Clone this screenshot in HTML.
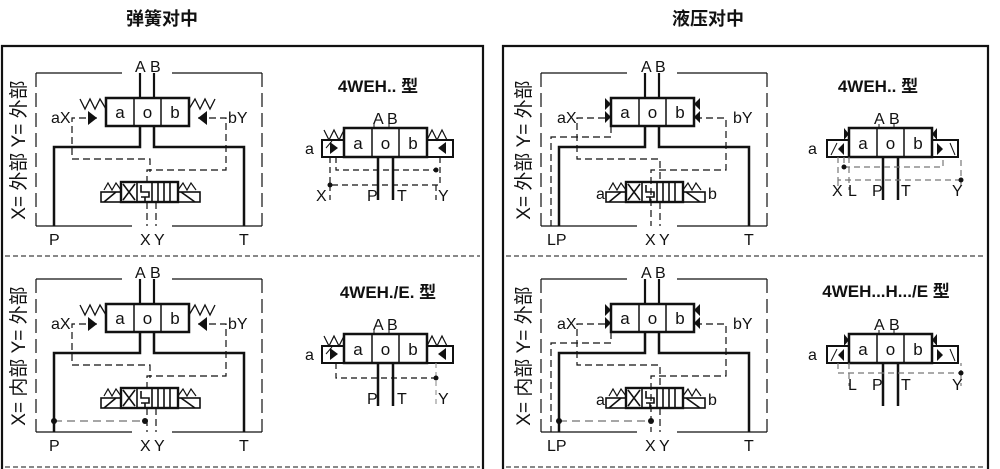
<!DOCTYPE html>
<html><head><meta charset="utf-8"><style>
html,body{margin:0;padding:0;background:#fff;}
svg{display:block;}
text{font-family:"Liberation Sans","Noto Sans CJK SC",sans-serif;fill:#111;}
.t{font-weight:bold;}
.v{font-size:17px;text-anchor:middle;}
</style></head><body>
<svg width="1000" height="469" viewBox="0 0 1000 469" xmlns="http://www.w3.org/2000/svg">
<defs>
 <g id="frame" fill="none" stroke="#111">
  <path d="M36,73H122M172,73H262M36,226H132M172,226H262" stroke-width="1.2"/>
  <path d="M36,73V226M262,73V226" stroke-width="1.2" stroke-dasharray="14,6"/>
  <path d="M140,73V98M154,73V98" stroke-width="2.2"/>
  <rect x="106" y="98" width="83" height="28" stroke-width="2.5" fill="#fff"/>
  <path d="M134,98V126M161,98V126" stroke-width="1.5"/>
  <path d="M140,126V147H54V226M154,126V147H244V226" stroke-width="2.5"/>
  <g stroke-width="1.6">
   <rect x="101" y="192" width="20" height="10"/>
   <rect x="178" y="192" width="22" height="10"/>
   <rect x="121" y="182" width="57" height="20" stroke-width="2.4"/>
   <path d="M137,182V202M152,182V202M158,182V202M164,182V202M170,182V202"/>
   <path d="M123,184L135,200M135,184L123,200"/>
   <path d="M141,185V192H149V197H141M145,197V202"/>
   <path d="M104,202L116,192M181,192L195,202"/>
   <path d="M104,190L108,183L112,190L116,183L121,190M178,190L183,183L187,190L191,183L196,190" stroke-width="1.2"/>
  </g>
 </g>
 <g id="small" fill="none" stroke="#111">
  <rect x="344" y="128" width="83" height="29" stroke-width="2.5" fill="#fff"/>
  <path d="M372,128V157M399,128V157" stroke-width="1.5"/>
  <rect x="322" y="140" width="22" height="17" stroke-width="2"/>
  <rect x="427" y="140" width="26" height="17" stroke-width="2"/>
  <path d="M378,157V200M393,157V200" stroke-width="2.5"/>
  <path d="M374,124V128M389,124V128" stroke-width="1"/>
 </g>
</defs>

<text x="162" y="25" font-size="18" class="t" text-anchor="middle">弹簧对中</text>
<text x="708" y="25" font-size="18" class="t" text-anchor="middle">液压对中</text>

<path d="M2,469V46H483V469" fill="none" stroke="#111" stroke-width="2.2"/>
<path d="M503,469V46H988V469" fill="none" stroke="#111" stroke-width="2.2"/>
<path d="M5,256H480M506,256H985M5,467H480M506,467H985" stroke="#111" stroke-width="1" stroke-dasharray="5,3"/>

<!-- ===== TL ===== -->
<g>
 <use href="#frame"/>
 <text x="120" y="118" class="v">a</text><text x="147.5" y="118" class="v">o</text><text x="175" y="118" class="v">b</text>
 <path d="M80,99L85,109L90,99L95,109L100,99L106,109M189,109L195,99L200,109L205,99L210,109L215,99" fill="none" stroke="#111" stroke-width="1.3"/>
 <path d="M88,111L97,118L88,125Z M207,111L198,118L207,125Z" fill="#111"/>
 <path d="M97,118H72V159H150V172M198,118H226V170H147V182M147,202V226M156,202V226" fill="none" stroke="#111" stroke-width="1.2" stroke-dasharray="7,4"/>
 <text x="135" y="72" font-size="16">A</text><text x="150" y="72" font-size="16">B</text>
 <text x="51" y="123" font-size="16">aX</text><text x="228" y="123" font-size="16">bY</text>
 <text x="49" y="245" font-size="16">P</text><text x="140" y="245" font-size="16">X</text><text x="154" y="245" font-size="16">Y</text><text x="239" y="245" font-size="16">T</text>
 <text transform="translate(25,150) rotate(-90)" font-size="19" text-anchor="middle">X= 外部  Y= 外部</text>
 <text x="378" y="92" font-size="17" class="t" text-anchor="middle">4WEH.. 型</text>
 <use href="#small"/>
 <text x="358" y="149" class="v">a</text><text x="385.5" y="149" class="v">o</text><text x="413" y="149" class="v">b</text>
 <path d="M324,130L329,140L334,130L339,140L344,130M427,140L432,130L437,140L442,130L447,140" fill="none" stroke="#111" stroke-width="1.2"/>
 <path d="M330,142V154L338,148Z M446,142V154L438,148Z" fill="#111"/>
 <path d="M336,157V170H436M330,157V185H440V157M330,185V200M436,185V200" fill="none" stroke="#111" stroke-width="1.2" stroke-dasharray="6,4"/>
 <circle cx="330" cy="185" r="2.5" fill="#111"/><circle cx="436" cy="170" r="2.5" fill="#111"/>
 <path d="M326,148L332,141" stroke="#111"/>
 <text x="373" y="124" font-size="16">A</text><text x="387" y="124" font-size="16">B</text>
 <text x="305" y="154" font-size="16">a</text>
 <text x="316" y="201" font-size="16">X</text><text x="367" y="201" font-size="16">P</text><text x="397" y="201" font-size="16">T</text><text x="438" y="201" font-size="16">Y</text>
</g>

<!-- ===== BL ===== -->
<g transform="translate(0,206)">
 <use href="#frame"/>
 <text x="120" y="118" class="v">a</text><text x="147.5" y="118" class="v">o</text><text x="175" y="118" class="v">b</text>
 <path d="M80,99L85,109L90,99L95,109L100,99L106,109M189,109L195,99L200,109L205,99L210,109L215,99" fill="none" stroke="#111" stroke-width="1.3"/>
 <path d="M88,111L97,118L88,125Z M207,111L198,118L207,125Z" fill="#111"/>
 <path d="M97,118H72V159H150V172M198,118H226V170H147V182M147,202V226M156,202V226" fill="none" stroke="#111" stroke-width="1.2" stroke-dasharray="7,4"/>
 <path d="M54,215H145" stroke="#888" stroke-width="1.5" stroke-dasharray="8,5"/>
 <circle cx="54" cy="215" r="3" fill="#111"/><circle cx="145" cy="215" r="3" fill="#111"/>
 <text x="135" y="72" font-size="16">A</text><text x="150" y="72" font-size="16">B</text>
 <text x="51" y="123" font-size="16">aX</text><text x="228" y="123" font-size="16">bY</text>
 <text x="49" y="245" font-size="16">P</text><text x="140" y="245" font-size="16">X</text><text x="154" y="245" font-size="16">Y</text><text x="239" y="245" font-size="16">T</text>
 <text transform="translate(25,150) rotate(-90)" font-size="19" text-anchor="middle">X= 内部  Y= 外部</text>
 <text x="388" y="92" font-size="17" class="t" text-anchor="middle">4WEH./E. 型</text>
 <use href="#small"/>
 <text x="358" y="149" class="v">a</text><text x="385.5" y="149" class="v">o</text><text x="413" y="149" class="v">b</text>
 <path d="M324,130L329,140L334,130L339,140L344,130M427,140L432,130L437,140L442,130L447,140" fill="none" stroke="#111" stroke-width="1.2"/>
 <path d="M330,142V154L338,148Z M446,142V154L438,148Z" fill="#111"/>
 <path d="M336,157V172H436" fill="none" stroke="#111" stroke-width="1.2" stroke-dasharray="6,4"/>
 <path d="M436,157V198" stroke="#999" stroke-width="1.2" stroke-dasharray="5,4"/>
 <circle cx="436" cy="172" r="2.5" fill="#111"/>
 <path d="M326,148L332,141" stroke="#111"/>
 <text x="373" y="124" font-size="16">A</text><text x="387" y="124" font-size="16">B</text>
 <text x="305" y="154" font-size="16">a</text>
 <text x="367" y="198" font-size="16">P</text><text x="397" y="198" font-size="16">T</text><text x="438" y="198" font-size="16">Y</text>
</g>

<!-- ===== TR ===== -->
<g transform="translate(505,0)">
 <use href="#frame"/>
 <text x="120" y="118" class="v">a</text><text x="147.5" y="118" class="v">o</text><text x="175" y="118" class="v">b</text>
 <path d="M100,98L106,104L100,110Z M100,111L106,117L100,123Z M195,98L189,104L195,110Z M195,111L189,117L195,123Z" fill="#111"/>
 <path d="M100,118H72V159H155V182M190,118H221V170H146V226M155,202V226M106,126V137H46V226" fill="none" stroke="#111" stroke-width="1.2" stroke-dasharray="7,4"/>
 <text x="136" y="72" font-size="16">A</text><text x="150" y="72" font-size="16">B</text>
 <text x="52" y="123" font-size="16">aX</text><text x="228" y="123" font-size="16">bY</text>
 <text x="91" y="199" font-size="16">a</text><text x="203" y="199" font-size="16">b</text>
 <text x="42" y="245" font-size="16">LP</text><text x="140" y="245" font-size="16">X</text><text x="154" y="245" font-size="16">Y</text><text x="239" y="245" font-size="16">T</text>
 <text transform="translate(25,150) rotate(-90)" font-size="19" text-anchor="middle">X= 外部  Y= 外部</text>
 <text x="373" y="92" font-size="17" class="t" text-anchor="middle">4WEH.. 型</text>
 <use href="#small"/>
 <text x="358" y="149" class="v">a</text><text x="385.5" y="149" class="v">o</text><text x="413" y="149" class="v">b</text>
 <path d="M339,128L344,134L339,140Z M339,143L333,149L339,155Z M432,128L427,134L432,140Z M432,143L438,149L432,155Z" fill="#111"/>
 <path d="M326,155L332,143M445,143L450,155" stroke="#111"/>
 <path d="M339,157V167H438V157M333,157V180H456V157M333,180V190M344,157V190M456,180V190" fill="none" stroke="#777" stroke-width="1.2" stroke-dasharray="6,4"/>
 <circle cx="339" cy="167" r="2.5" fill="#111"/><circle cx="456" cy="180" r="2.5" fill="#111"/>
 <text x="369" y="124" font-size="16">A</text><text x="384" y="124" font-size="16">B</text>
 <text x="303" y="154" font-size="16">a</text>
 <text x="327" y="196" font-size="16">X</text><text x="343" y="196" font-size="16">L</text><text x="367" y="196" font-size="16">P</text><text x="396" y="196" font-size="16">T</text><text x="447" y="196" font-size="16">Y</text>
</g>

<!-- ===== BR ===== -->
<g transform="translate(505,206)">
 <use href="#frame"/>
 <text x="120" y="118" class="v">a</text><text x="147.5" y="118" class="v">o</text><text x="175" y="118" class="v">b</text>
 <path d="M100,98L106,104L100,110Z M100,111L106,117L100,123Z M195,98L189,104L195,110Z M195,111L189,117L195,123Z" fill="#111"/>
 <path d="M100,118H72V159H155V182M190,118H221V170H146V226M155,202V226M106,126V137H46V226" fill="none" stroke="#111" stroke-width="1.2" stroke-dasharray="7,4"/>
 <path d="M54,215H146" stroke="#888" stroke-width="1.5" stroke-dasharray="8,5"/>
 <circle cx="54" cy="215" r="3" fill="#111"/><circle cx="146" cy="215" r="3" fill="#111"/>
 <text x="136" y="72" font-size="16">A</text><text x="150" y="72" font-size="16">B</text>
 <text x="52" y="123" font-size="16">aX</text><text x="228" y="123" font-size="16">bY</text>
 <text x="91" y="199" font-size="16">a</text><text x="203" y="199" font-size="16">b</text>
 <text x="42" y="245" font-size="16">LP</text><text x="140" y="245" font-size="16">X</text><text x="154" y="245" font-size="16">Y</text><text x="239" y="245" font-size="16">T</text>
 <text transform="translate(25,150) rotate(-90)" font-size="19" text-anchor="middle">X= 内部  Y= 外部</text>
 <text x="381" y="91" font-size="17" class="t" text-anchor="middle">4WEH...H.../E 型</text>
 <use href="#small"/>
 <text x="358" y="149" class="v">a</text><text x="385.5" y="149" class="v">o</text><text x="413" y="149" class="v">b</text>
 <path d="M339,128L344,134L339,140Z M339,143L333,149L339,155Z M432,128L427,134L432,140Z M432,143L438,149L432,155Z" fill="#111"/>
 <path d="M326,155L332,143M445,143L450,155" stroke="#111"/>
 <path d="M333,157V167H456V157M344,157V180M456,167V180" fill="none" stroke="#777" stroke-width="1.2" stroke-dasharray="6,4"/>
 <circle cx="456" cy="167" r="2.5" fill="#111"/>
 <text x="369" y="124" font-size="16">A</text><text x="384" y="124" font-size="16">B</text>
 <text x="303" y="154" font-size="16">a</text>
 <text x="343" y="184" font-size="16">L</text><text x="367" y="184" font-size="16">P</text><text x="396" y="184" font-size="16">T</text><text x="447" y="184" font-size="16">Y</text>
</g>
</svg>
</body></html>
